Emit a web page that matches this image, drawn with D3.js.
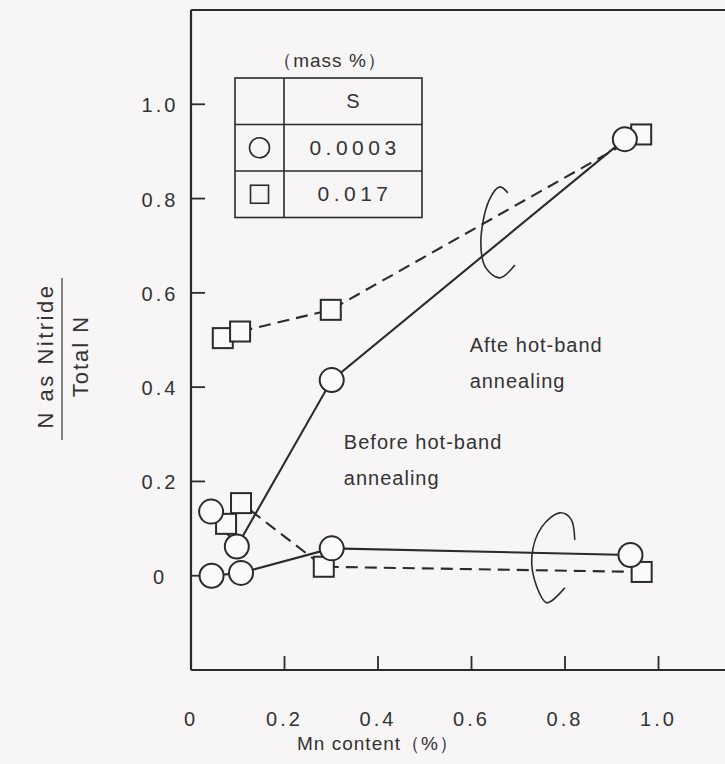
<!DOCTYPE html>
<html><head><meta charset="utf-8">
<script src="https://cdn.jsdelivr.net/npm/d3@7"></script>
<style>
html,body{margin:0;padding:0;background:#f7f5f6;}
svg{display:block;}
text{font-family:"Liberation Sans",Arial,sans-serif;fill:#333;}
</style></head>
<body><svg id="c" width="725" height="764"></svg>
<script>
// Data (Mn content %, N as Nitride / Total N)
const afterCircleX = [0.043, 0.098, 0.301, 0.928];
const afterCircleY = [0.136, 0.062, 0.415, 0.926];
const afterSquareX = [0.068, 0.105, 0.299, 0.963];
const afterSquareY = [0.504, 0.518, 0.564, 0.936];
const beforeCircleX = [0.044, 0.107, 0.301, 0.940];
const beforeCircleY = [0.000, 0.006, 0.058, 0.044];
const beforeSquareX = [0.075, 0.107, 0.284, 0.964];
const beforeSquareY = [0.110, 0.154, 0.019, 0.008];
const xTicks = [0, 0.2, 0.4, 0.6, 0.8, 1.0];
const xTickLabels = ["0", "0.2", "0.4", "0.6", "0.8", "1.0"];
const yTicks = [0, 0.2, 0.4, 0.6, 0.8, 1.0];
const yTickLabels = ["0", "0.2", "0.4", "0.6", "0.8", "1.0"];
const legendSymbols = ["circle", "square"];
const legendValues = ["0.0003", "0.017"];

const svg = d3.select("#c");
const ink = "#2b2b2b";
const x = d3.scaleLinear().domain([0, 1.2]).range([191, 752]);
const y = d3.scaleLinear().domain([-0.2, 1.2]).range([670, 10]);

// frame
svg.append("line").attr("x1", x(0)).attr("x2", x(1.2)).attr("y1", y(1.2)).attr("y2", y(1.2))
  .attr("stroke", ink).attr("stroke-width", 2.2);
svg.append("line").attr("x1", x(0)).attr("x2", x(0)).attr("y1", y(1.2)).attr("y2", y(-0.2))
  .attr("stroke", ink).attr("stroke-width", 2.2);
svg.append("line").attr("x1", x(0)).attr("x2", x(1.2)).attr("y1", y(-0.2)).attr("y2", y(-0.2))
  .attr("stroke", ink).attr("stroke-width", 2.2);

// x ticks (inward)
xTicks.forEach((t, i) => {
  if (t > 0) svg.append("line").attr("x1", x(t)).attr("x2", x(t)).attr("y1", y(-0.2)).attr("y2", y(-0.2) - 14)
    .attr("stroke", ink).attr("stroke-width", 1.8);
  svg.append("text").attr("x", x(t)).attr("y", 726).attr("text-anchor", "middle")
    .style("font-size", "20px").style("letter-spacing", "3px").text(xTickLabels[i]);
});
// y ticks
yTicks.forEach((t, i) => {
  svg.append("line").attr("x1", x(0)).attr("x2", x(0) + 14).attr("y1", y(t)).attr("y2", y(t))
    .attr("stroke", ink).attr("stroke-width", 1.8);
  svg.append("text").attr("x", 160).attr("y", y(t) + 8).attr("text-anchor", "middle")
    .style("font-size", "20px").style("letter-spacing", "3px").text(yTickLabels[i]);
});

// axis titles
svg.append("text").attr("x", 378).attr("y", 750).attr("text-anchor", "middle")
  .style("font-size", "19px").style("letter-spacing", "1px").text("Mn content（%）");
const yl = svg.append("g").attr("transform", "translate(0,356)");
yl.append("text").attr("transform", "translate(53,0) rotate(-90)").attr("text-anchor", "middle")
  .style("font-size", "22px").style("letter-spacing", "2.5px").text("N as Nitride");
yl.append("text").attr("transform", "translate(88,0) rotate(-90)").attr("text-anchor", "middle")
  .style("font-size", "22px").style("letter-spacing", "2px").text("Total N");
yl.append("line").attr("x1", 62).attr("x2", 62).attr("y1", -78).attr("y2", 84)
  .attr("stroke", "#444").attr("stroke-width", 1.3);

// lines
const line = d3.line().x(d => x(d[0])).y(d => y(d[1]));
function series(xs, ys, dashed) {
  svg.append("path").datum(xs.map((v, i) => [v, ys[i]])).attr("d", line)
    .attr("fill", "none").attr("stroke", ink).attr("stroke-width", 2.1)
    .attr("stroke-dasharray", dashed ? "12,7" : null);
}
series(afterSquareX, afterSquareY, true);
series(beforeSquareX, beforeSquareY, true);
series(afterCircleX, afterCircleY, false);
series(beforeCircleX, beforeCircleY, false);

// markers
function squares(xs, ys) {
  xs.forEach((v, i) => svg.append("rect").attr("x", x(v) - 10).attr("y", y(ys[i]) - 10)
    .attr("width", 20).attr("height", 20).attr("fill", "#fbfafa").attr("stroke", ink).attr("stroke-width", 2));
}
function circles(xs, ys) {
  xs.forEach((v, i) => svg.append("circle").attr("cx", x(v)).attr("cy", y(ys[i])).attr("r", 12)
    .attr("fill", "#fbfafa").attr("stroke", ink).attr("stroke-width", 2));
}
squares(beforeSquareX, beforeSquareY);
circles(beforeCircleX, beforeCircleY);
squares(afterSquareX, afterSquareY);
circles(afterCircleX, afterCircleY);

// brackets
const curve = d3.line().curve(d3.curveCatmullRom);
function bracket(dx, dy, pts) {
  svg.append("path").attr("transform", `translate(${x(dx)},${y(dy)})`).attr("d", curve(pts))
    .attr("fill", "none").attr("stroke", ink).attr("stroke-width", 1.6);
}
bracket(0.62, 0.706, [[27,-50],[19,-56],[8,-42],[0,0],[5,25],[19,35],[34,22]]);
bracket(0.729, 0.04, [[43,-17],[39,-38],[28,-44],[10,-30],[0,0],[5,30],[15,46],[33,31]]);

// annotations
function label(tx, ty, lines) {
  lines.forEach((s, i) => svg.append("text").attr("x", x(tx)).attr("y", y(ty) + i * 36)
    .style("font-size", "20px").style("letter-spacing", "1px").text(s));
}
label(0.596, 0.475, ["Afte hot-band", "annealing"]);
label(0.327, 0.268, ["Before hot-band", "annealing"]);

// legend table
const L = {x0: 235, x1: 284, x2: 422, y0: 78, h: 46.5};
svg.append("text").attr("x", 330).attr("y", 67).attr("text-anchor", "middle")
  .style("font-size", "19px").style("letter-spacing", "1px").text("（mass %）");
svg.append("rect").attr("x", L.x0).attr("y", L.y0).attr("width", L.x2 - L.x0).attr("height", L.h * 3)
  .attr("fill", "none").attr("stroke", ink).attr("stroke-width", 1.6);
svg.append("line").attr("x1", L.x1).attr("x2", L.x1).attr("y1", L.y0).attr("y2", L.y0 + L.h * 3)
  .attr("stroke", ink).attr("stroke-width", 1.6);
[1, 2].forEach(r => svg.append("line").attr("x1", L.x0).attr("x2", L.x2)
  .attr("y1", L.y0 + L.h * r).attr("y2", L.y0 + L.h * r).attr("stroke", ink).attr("stroke-width", 1.6));
svg.append("text").attr("x", (L.x1 + L.x2) / 2).attr("y", L.y0 + L.h / 2 + 7).attr("text-anchor", "middle")
  .style("font-size", "20px").text("S");
legendSymbols.forEach((s, i) => {
  const cy = L.y0 + L.h * (i + 1.5), cx = (L.x0 + L.x1) / 2;
  if (s === "circle") svg.append("circle").attr("cx", cx).attr("cy", cy).attr("r", 10)
    .attr("fill", "none").attr("stroke", ink).attr("stroke-width", 1.6);
  else svg.append("rect").attr("x", cx - 9).attr("y", cy - 9).attr("width", 18).attr("height", 18)
    .attr("fill", "none").attr("stroke", ink).attr("stroke-width", 1.6);
  svg.append("text").attr("x", (L.x1 + L.x2) / 2 + 2).attr("y", cy + 7).attr("text-anchor", "middle")
    .style("font-size", "21px").style("letter-spacing", "4.5px").text(legendValues[i]);
});
</script></body></html>
